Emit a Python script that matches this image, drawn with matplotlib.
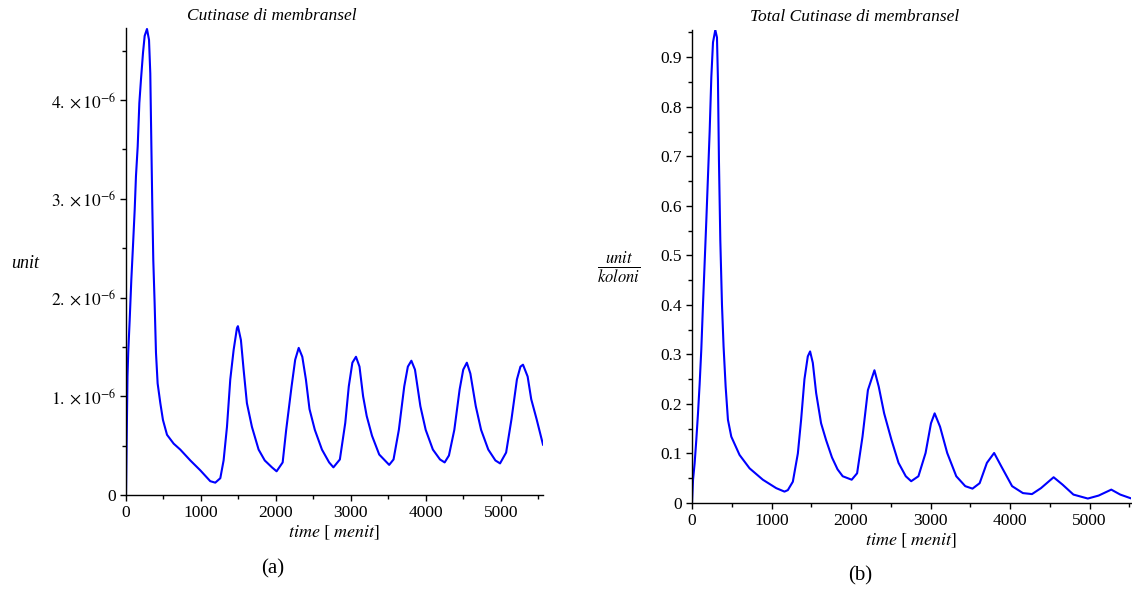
import matplotlib
matplotlib.use("Agg")
import matplotlib.pyplot as plt
from matplotlib.ticker import MultipleLocator, FixedLocator, FixedFormatter

plt.rcParams['mathtext.fontset'] = 'stix'
plt.rcParams['font.family'] = ['Liberation Serif', 'DejaVu Serif']

# ---- Panel (a): Cutinase di membransel (values in 1e-6 unit) ----
time_a = [0, 8, 20, 30, 49, 71, 93, 116, 133, 156, 178, 200, 227, 249, 280, 307, 324, 338,
          351, 364, 382, 400, 422, 458, 493, 547, 636, 724, 858, 991, 1124, 1191, 1258, 1302,
          1347, 1391, 1436, 1480, 1493, 1533, 1569, 1613, 1680, 1769, 1851, 1947, 2009, 2090,
          2137, 2209, 2257, 2304, 2352, 2400, 2448, 2519, 2614, 2710, 2767, 2853, 2925, 2972,
          3020, 3068, 3115, 3163, 3211, 3282, 3378, 3511, 3569, 3640, 3712, 3760, 3807, 3855,
          3927, 3998, 4094, 4189, 4251, 4308, 4380, 4451, 4499, 4547, 4594, 4666, 4737, 4833,
          4928, 4990, 5071, 5143, 5215, 5262, 5296, 5358, 5406, 5477, 5563]
cut_a = [0.0, 0.5, 1.2, 1.45, 1.77, 2.18, 2.52, 2.89, 3.23, 3.53, 3.97, 4.21, 4.48, 4.65, 4.72,
         4.61, 4.27, 3.56, 2.92, 2.38, 1.94, 1.44, 1.13, 0.93, 0.76, 0.61, 0.52, 0.46, 0.35,
         0.25, 0.14, 0.125, 0.17, 0.35, 0.69, 1.17, 1.47, 1.69, 1.71, 1.57, 1.27, 0.93, 0.69,
         0.46, 0.35, 0.28, 0.24, 0.33, 0.66, 1.10, 1.37, 1.49, 1.40, 1.17, 0.87, 0.66, 0.46,
         0.33, 0.28, 0.36, 0.73, 1.10, 1.34, 1.40, 1.30, 1.00, 0.80, 0.60, 0.41, 0.305, 0.36,
         0.66, 1.10, 1.30, 1.36, 1.27, 0.90, 0.66, 0.46, 0.36, 0.33, 0.40, 0.66, 1.07, 1.27,
         1.34, 1.23, 0.90, 0.66, 0.46, 0.35, 0.32, 0.43, 0.77, 1.17, 1.30, 1.32, 1.20, 0.97,
         0.77, 0.51]

# ---- Panel (b): Total Cutinase di membransel ----
time_b = [0, 13, 33, 54, 75, 96, 117, 138, 159, 180, 201, 222, 243, 264, 293, 314, 326, 339,
          356, 377, 397, 423, 452, 494, 598, 724, 891, 1059, 1163, 1205, 1268, 1331, 1372,
          1414, 1456, 1485, 1519, 1561, 1623, 1686, 1760, 1830, 1895, 2008, 2076, 2144, 2212,
          2294, 2348, 2416, 2507, 2597, 2688, 2756, 2847, 2937, 3005, 3051, 3119, 3209, 3323,
          3436, 3527, 3617, 3708, 3799, 3889, 4025, 4161, 4275, 4388, 4547, 4660, 4796, 4977,
          5113, 5272, 5385, 5544]
cut_b = [0.0, 0.047, 0.08, 0.127, 0.18, 0.24, 0.31, 0.40, 0.485, 0.57, 0.66, 0.75, 0.86, 0.93,
         0.955, 0.94, 0.856, 0.69, 0.53, 0.40, 0.316, 0.235, 0.168, 0.134, 0.097, 0.07, 0.047,
         0.030, 0.023, 0.026, 0.043, 0.10, 0.168, 0.25, 0.296, 0.306, 0.283, 0.222, 0.161,
         0.127, 0.092, 0.068, 0.054, 0.047, 0.060, 0.134, 0.228, 0.268, 0.235, 0.181, 0.128,
         0.081, 0.054, 0.044, 0.054, 0.101, 0.161, 0.181, 0.154, 0.101, 0.054, 0.034, 0.029,
         0.040, 0.081, 0.101, 0.074, 0.034, 0.020, 0.018, 0.030, 0.052, 0.037, 0.017, 0.009,
         0.015, 0.027, 0.017, 0.008]

xticks = [0, 1000, 2000, 3000, 4000, 5000]
yticks_a = [0, 1, 2, 3, 4]
ytick_labels_a = ['0', r'$1.\times10^{-6}$', r'$2.\times10^{-6}$', r'$3.\times10^{-6}$',
                  r'$4.\times10^{-6}$']
yticks_b = [0, 0.1, 0.2, 0.3, 0.4, 0.5, 0.6, 0.7, 0.8, 0.9]
ytick_labels_b = ['0', '0.1', '0.2', '0.3', '0.4', '0.5', '0.6', '0.7', '0.8', '0.9']

W, H = 1132, 590
fig = plt.figure(figsize=(W / 100, H / 100), dpi=100)

def px_axes(x0, y0, x1, y1):
    return fig.add_axes([x0 / W, 1 - y1 / H, (x1 - x0) / W, (y1 - y0) / H])

axA = px_axes(126, 28, 543, 495)
axB = px_axes(692, 30, 1131, 503)

blue = '#0000ff'
axA.plot(time_a, cut_a, color=blue, lw=1.5)
axB.plot(time_b, cut_b, color=blue, lw=1.5)

axA.set_xlim(0, 5563)
axA.set_ylim(0, 4.73)
axB.set_xlim(0, 5520)
axB.set_ylim(0, 0.955)

for ax in (axA, axB):
    for s in ('top', 'right'):
        ax.spines[s].set_visible(False)
    for s in ('left', 'bottom'):
        ax.spines[s].set_linewidth(1.0)
        ax.spines[s].set_color('black')
    ax.set_xticks(xticks)
    ax.set_xticklabels([str(v) for v in xticks])
    ax.xaxis.set_minor_locator(MultipleLocator(500))
    ax.tick_params(which='major', direction='out', length=4, width=1, labelsize=12.5,
                   colors='black', pad=3)
    ax.tick_params(which='minor', direction='out', length=3, width=1)
    ax.set_xlabel(r'$time\ [\ menit]$', fontsize=13, labelpad=2)

axA.yaxis.set_major_locator(FixedLocator(yticks_a))
axA.yaxis.set_major_formatter(FixedFormatter(ytick_labels_a))
axA.yaxis.set_minor_locator(MultipleLocator(0.5))
axB.yaxis.set_major_locator(FixedLocator(yticks_b))
axB.yaxis.set_major_formatter(FixedFormatter(ytick_labels_b))
axB.yaxis.set_minor_locator(MultipleLocator(0.05))

fig.text(272 / W, 1 - 16 / H, 'Cutinase di membransel', fontsize=12.5, style='italic',
         ha='center', va='center')
fig.text(855 / W, 1 - 17 / H, 'Total Cutinase di membransel', fontsize=12.5, style='italic',
         ha='center', va='center')

fig.text(25 / W, 1 - 263 / H, 'unit', fontsize=13, style='italic', ha='center', va='center')
fig.text(619 / W, 1 - 268 / H, r'$\frac{unit}{koloni}$', fontsize=17, ha='center', va='center')

fig.text(273 / W, 1 - 569 / H, '(a)', fontsize=15, ha='center', va='center')
fig.text(860 / W, 1 - 576 / H, '(b)', fontsize=15, ha='center', va='center')

fig.savefig('out.png', dpi=100, facecolor='white')
